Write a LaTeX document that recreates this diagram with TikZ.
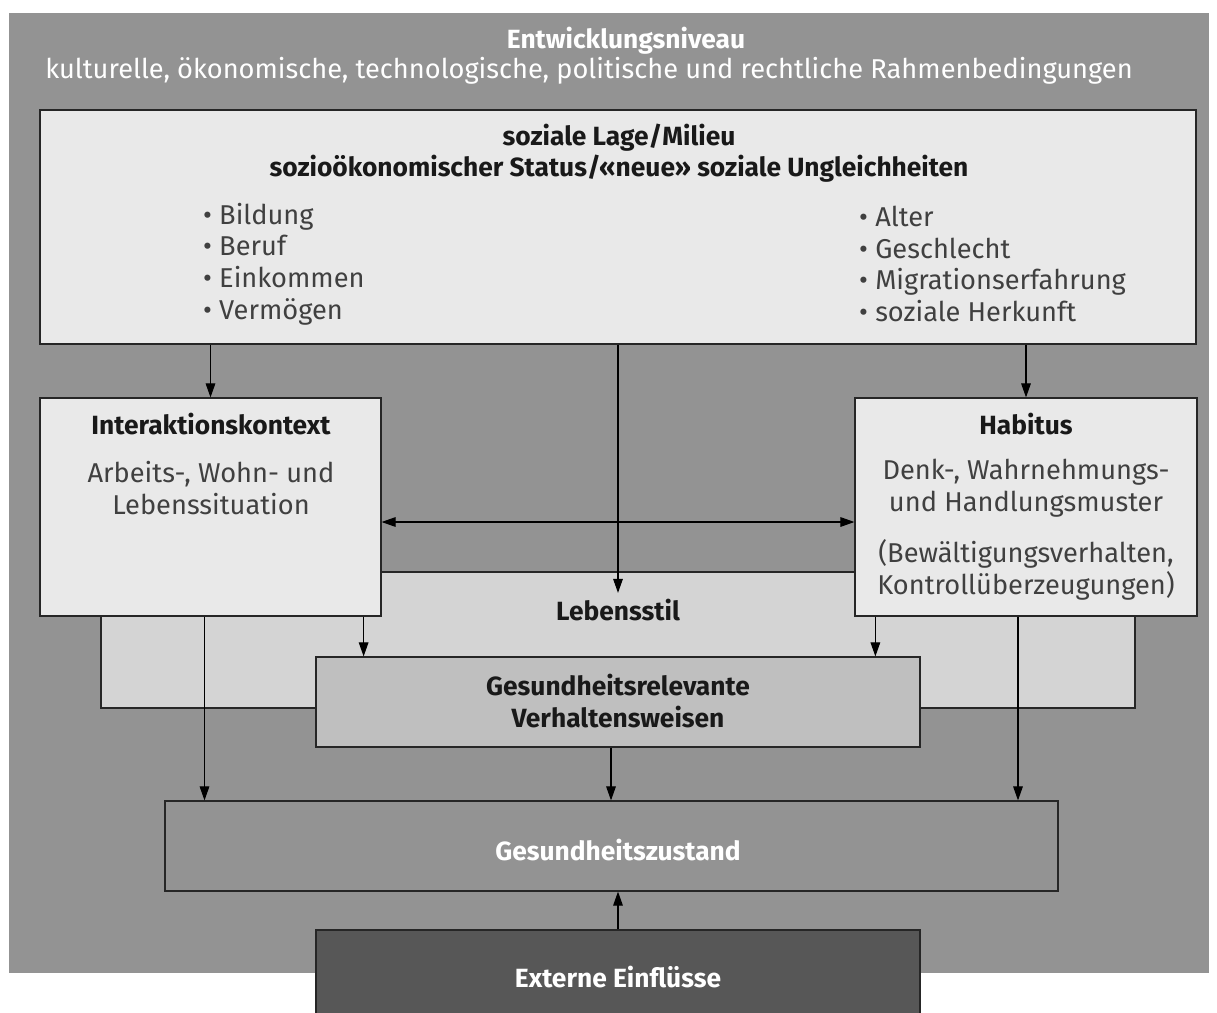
\documentclass[tikz,border=0pt]{standalone}
\usepackage{fontspec}
\setmainfont{Fira Sans}
\usetikzlibrary{arrows.meta, fit, positioning}

\definecolor{rahmengrau}{RGB}{147,147,147}
\definecolor{hellgrau}{RGB}{233,233,233}
\definecolor{stilgrau}{RGB}{212,212,212}
\definecolor{verhgrau}{RGB}{191,191,191}
\definecolor{dunkelgrau}{RGB}{87,87,87}

\begin{document}
\begin{tikzpicture}[x=0.02cm, y=-0.02cm,
    box/.style={draw=black!85, line width=0.7pt, inner sep=0pt},
    head/.style={font=\fontsize{15}{18}\selectfont\bfseries, text=black!90},
    body/.style={font=\fontsize{15.5}{18}\selectfont, text=black!75},
    arr/.style={-{Triangle[length=8pt,width=5.5pt]}, line width=0.6pt}]

    % Page
    \clip (0,0) rectangle (1217,1012);
    \fill[white] (0,0) rectangle (1217,1012);

    % Entwicklungsniveau
    \fill[rahmengrau] (9,13) rectangle (1209,973);
    \node[head, text=white] (niveau) at (626,41) {Entwicklungsniveau};
    \node[body, text=white] (rahmen) at (589,71)
        {kulturelle, ökonomische, technologische, politische und rechtliche Rahmenbedingungen};

    % soziale Lage
    \node[box, fill=hellgrau, fit={(40,110) (1196,344)}] (lage) {};
    \node[head, align=center] (lagetxt) at (619,153)
        {soziale Lage/Milieu\\sozioökonomischer Status/«neue» soziale Ungleichheiten};
    \node[body, align=left, anchor=west] (vertikal) at (197,264)
        {\textbullet\ Bildung\\\textbullet\ Beruf\\\textbullet\ Einkommen\\\textbullet\ Vermögen};
    \node[body, align=left, anchor=west] (horizontal) at (853,264)
        {\textbullet\ Alter\\\textbullet\ Geschlecht\\\textbullet\ Migrationserfahrung\\\textbullet\ soziale Herkunft};

    % Lebensstil
    \node[box, fill=stilgrau, fit={(101,572) (1135,708)}] (stil) {};
    \node[head] (stiltxt) at (618,610) {Lebensstil};

    % Interaktionskontext
    \node[box, fill=hellgrau, fit={(40,398) (381,616)}] (inter) {};
    \node[head] (intertxt) at (211,424) {Interaktionskontext};
    \node[body, align=center] (situation) at (211,488) {Arbeits-, Wohn- und\\Lebenssituation};

    % Habitus
    \node[box, fill=hellgrau, fit={(855,398) (1197,616)}] (habitus) {};
    \node[head] (habitustxt) at (1026,424) {Habitus};
    \node[body, align=center] (muster) at (1026,488) {Denk-, Wahrnehmungs-\\und Handlungsmuster};
    \node[body, align=center] (bewaeltigung) at (1026,570) {(Bewältigungsverhalten,\\Kontrollüberzeugungen)};

    % Verhaltensweisen
    \node[box, fill=verhgrau, fit={(316,657) (920,747)}] (verhalten) {};
    \node[head, align=center] (verhaltentxt) at (618,701) {Gesundheitsrelevante\\Verhaltensweisen};

    % Gesundheitszustand
    \node[box, fill=rahmengrau, fit={(165,801) (1058,891)}] (zustand) {};
    \node[head, text=white] (zustandtxt) at (618,850) {Gesundheitszustand};

    % Externe Einfluesse
    \node[box, fill=dunkelgrau, fit={(316,930) (920,1030)}] (extern) {};
    \node[head, text=white] (externtxt) at (618,977) {Externe Einflüsse};

    % Arrows
    \draw[arr] (inter.north |- lage.south) -- (inter.north);
    \draw[arr] (habitus.north |- lage.south) -- (habitus.north);
    \draw[arr] (lage.south) -- (stiltxt.north);
    \draw[arr, {Triangle[length=8pt,width=5.5pt]}-{Triangle[length=8pt,width=5.5pt]}]
        ([yshift=-0.3cm]inter.east) -- ([yshift=-0.3cm]habitus.west);
    \draw[arr] ([xshift=-0.36cm]inter.south east) -- ([xshift=-0.36cm]inter.south east |- verhalten.north);
    \draw[arr] ([xshift=0.42cm]habitus.south west) -- ([xshift=0.42cm]habitus.south west |- verhalten.north);
    \draw[arr] ([xshift=-0.12cm]inter.south) -- ([xshift=-0.12cm]inter.south |- zustand.north);
    \draw[arr] ([xshift=-0.16cm]habitus.south) -- ([xshift=-0.16cm]habitus.south |- zustand.north);
    \draw[arr] ([xshift=-0.14cm]verhalten.south) -- ([xshift=-0.14cm]verhalten.south |- zustand.north);
    \draw[arr] (extern.north) -- (extern.north |- zustand.south);
\end{tikzpicture}
\end{document}
